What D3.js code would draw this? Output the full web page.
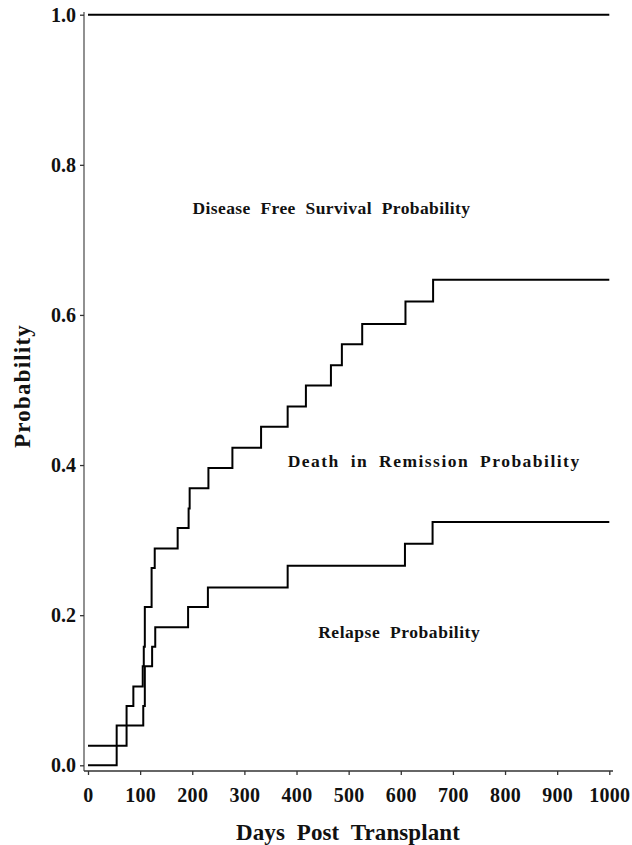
<!DOCTYPE html>
<html>
<head>
<meta charset="utf-8">
<script src="https://cdn.jsdelivr.net/npm/d3@7"></script>
<style>
  body { margin: 0; background: #fff; }
  svg text { font-family: "Liberation Serif", "DejaVu Serif", serif; font-weight: bold; fill: #111; }
  .curve { fill: none; stroke: #000; stroke-width: 2; }
</style>
</head>
<body>
<svg id="chart" width="632" height="845"></svg>
<script>
// ---- data ----
const xTicks = [0, 100, 200, 300, 400, 500, 600, 700, 800, 900, 1000];
const yTicks = [0, 0.2, 0.4, 0.6, 0.8, 1.0];

// disease free survival line (top)
const dfsDays = [0, 1000];
const dfsProb = [1.0, 1.0];

// death in remission (middle curve)
const deathDays = [0, 74, 87, 105, 107, 109, 122, 128, 172, 193, 195, 231, 277, 332, 383, 418, 466, 487, 526, 609, 662, 1000];
const deathProb = [0.026, 0.079, 0.105, 0.132, 0.158, 0.211, 0.263, 0.289, 0.316, 0.342, 0.369, 0.396, 0.423, 0.451, 0.478, 0.506, 0.533, 0.561, 0.588, 0.618, 0.647, 0.647];

// relapse (lower curve)
const relapseDays = [0, 55, 106, 109, 123, 129, 192, 230, 383, 608, 661, 1000];
const relapseProb = [0, 0.053, 0.079, 0.132, 0.158, 0.184, 0.211, 0.237, 0.266, 0.295, 0.324, 0.324];

const labels = [
    { text: "Disease Free Survival Probability", day: 467, prob: 0.735, width: 278 },
    { text: "Death in Remission Probability", day: 664, prob: 0.397, width: 293 },
    { text: "Relapse Probability", day: 597, prob: 0.170, width: 162 }
];

// ---- helper: keep word gaps wide, then spread letters to reach the wanted width ----
function fitText(sel, target, wordGap) {
    sel.style("word-spacing", wordGap + "px");
    const natural = sel.node().getComputedTextLength();
    const n = sel.text().length;
    sel.style("letter-spacing", ((target - natural) / n) + "px");
}

// ---- scales ----
const svg = d3.select("#chart");

const x = d3.scaleLinear().domain([0, 1000]).range([88, 609.3]);
const y = d3.scaleLinear().domain([0, 1]).range([765.3, 14.7]);

const axisY = 771;
const axisX = 84;

// axis lines
svg.append("line")
    .attr("x1", axisX).attr("x2", axisX)
    .attr("y1", 12).attr("y2", axisY)
    .attr("stroke", "#555").attr("stroke-width", 1.3);

svg.append("line")
    .attr("x1", axisX).attr("x2", 613)
    .attr("y1", axisY).attr("y2", axisY)
    .attr("stroke", "#333").attr("stroke-width", 1.3);

// x axis
const gx = svg.append("g")
    .attr("transform", "translate(0," + axisY + ")")
    .call(d3.axisBottom(x).tickValues(xTicks).tickSize(4).tickPadding(13).tickFormat(d3.format("d")));
gx.select(".domain").remove();
gx.selectAll("line").attr("stroke", "#333").attr("stroke-width", 1.3);
gx.selectAll("text").style("font-size", "20px").style("letter-spacing", "0.3px");

// y axis
const gy = svg.append("g")
    .attr("transform", "translate(" + axisX + ",0)")
    .call(d3.axisLeft(y).tickValues(yTicks).tickSize(4).tickPadding(4).tickFormat(d3.format(".1f")));
gy.select(".domain").remove();
gy.selectAll("line").attr("stroke", "#333").attr("stroke-width", 1.3);
gy.selectAll("text").style("font-size", "20px");

// curves
const stepLine = d3.line()
    .x(d => x(d[0]))
    .y(d => y(d[1]))
    .curve(d3.curveStepAfter);

[[dfsDays, dfsProb], [deathDays, deathProb], [relapseDays, relapseProb]].forEach(s => {
    svg.append("path")
        .datum(d3.zip(s[0], s[1]))
        .attr("class", "curve")
        .attr("d", stepLine);
});

// labels inside the plot
labels.forEach(l => {
    const t = svg.append("text")
        .attr("x", x(l.day))
        .attr("y", y(l.prob))
        .attr("text-anchor", "middle")
        .style("font-size", "17.5px")
        .text(l.text);
    fitText(t, l.width, 5);
});

// axis titles
const xTitle = svg.append("text")
    .attr("x", 348)
    .attr("y", 840)
    .attr("text-anchor", "middle")
    .style("font-size", "23px")
    .text("Days Post Transplant");
fitText(xTitle, 224, 6);

svg.append("text")
    .attr("transform", "translate(30,386) rotate(-90)")
    .attr("text-anchor", "middle")
    .style("font-size", "23px")
    .style("letter-spacing", "1.2px")
    .text("Probability");
</script>
</body>
</html>
